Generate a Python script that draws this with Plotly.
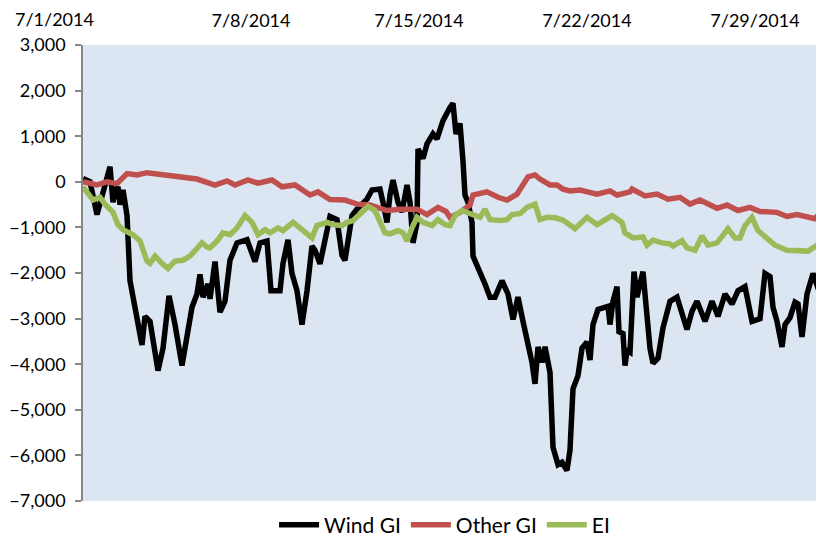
import pandas as pd
import plotly.graph_objects as go

# hours since 2014-07-01 00:00, and values
wind_h = [0, 7, 14, 20, 27, 30, 32, 35, 37, 40, 44, 47, 52, 59, 62, 67, 75, 80, 86, 92, 99, 104, 109, 114,
          117, 120, 125, 127, 132, 137, 142, 147, 154, 164, 172, 177, 184, 188, 197, 200, 205, 209, 214, 219,
          224, 229, 232, 237, 242, 247, 254, 259, 262, 269, 274, 284, 289, 297, 300, 304, 307, 310, 315, 319,
          324, 327, 330, 334, 335, 340, 344, 350, 354, 360, 367, 370, 373, 377, 380, 382, 385, 389, 390, 395,
          402, 407, 412, 419, 425, 430, 435, 440, 445, 449, 452, 455, 459, 462, 467, 470, 475, 479, 484, 487,
          490, 495, 499, 504, 507, 510, 515, 520, 525, 527, 530, 534, 536, 540, 542, 544, 547, 551, 554, 557,
          560, 562, 567, 570, 575, 580, 587, 594, 604, 609, 614, 622, 629, 635, 642, 649, 655, 662, 669, 677,
          682, 687, 690, 694, 699, 702, 707, 712, 715, 719, 724, 730, 735, 737, 739, 741]
wind_v = [70, 0, -720, -220, 330, -450, -200, -110, -500, -180, -740, -2170, -2750, -3580, -2950, -3060, -4140,
          -3650, -2500, -3130, -4030, -3360, -2750, -2460,
          -2030, -2530, -2240, -2570, -1750, -2860, -2620, -1720, -1340, -1270, -1750, -1340, -1300, -2390,
          -2390, -1790, -1270, -2010, -2390, -3130,
          -2390, -1410, -1500, -1800, -1200, -760, -830, -1610, -1720, -740, -600, -380, -180, -160, -450, -890,
          -290, 40, -450, -660,
          -70, -450, -1340, -900, 720, 510, 830, 1050, 940, 1340, 1630, 1720, 1050, 1280, 450, -290, -450, -890,
          -1630, -1860,
          -2240, -2530, -2530, -2170, -2460, -3020, -2530, -3060, -3510, -3960, -4430, -3620, -3960, -3620, -4180,
          -5820, -6200, -6150, -6330, -5880,
          -4540, -4250, -3650, -3510, -3910, -3130, -2800, -2780, -2730, -3130, -2620, -2300, -3290, -3330, -4030,
          -3700, -3740, -1970, -2530, -2240,
          -1970, -2460, -3650, -3980, -3870, -3200, -2620, -2530, -3240, -2840, -2620, -3060, -2620, -2950, -2460,
          -2680, -2390, -2300, -3060, -3000,
          -2010, -2080, -2750, -3060, -3620, -3130, -2980, -2640, -2680, -3400, -2460, -2010, -2300, -2460, -1500,
          -1500]

other_h = [0, 14, 24, 34, 44, 54, 64, 80, 97, 114, 132, 144, 152, 165, 175, 189, 199, 212, 227, 235, 247, 262,
           274, 287, 304, 317, 334, 344, 355, 363, 367, 377, 387, 390, 404, 415, 424, 434, 445, 452, 457, 467,
           474, 480, 487, 497, 514, 527, 534, 547, 549, 562, 574, 585, 597, 607, 617, 634, 644, 655, 667, 677,
           694, 704, 714, 732, 737, 741]
other_v = [0, -70, 0, -40, 180, 150, 200, 150, 110, 60, -70, 20, -70, 40, -30, 40, -110, -70, -290, -220, -390,
           -400, -490, -510, -630, -600, -600, -720, -560, -650, -780, -670, -510, -290, -220, -340, -400, -270,
           110, 150, 60, -70, -70, -160, -200, -180, -270, -200, -290, -220, -160, -310, -270, -380, -340, -490,
           -400, -580, -510, -630, -560, -650, -670, -760, -720, -810, -690, -670]

ei_h = [0, 10, 17, 22, 30, 35, 40, 45, 50, 57, 64, 67, 72, 79, 85, 92, 100, 107, 112, 119, 124, 127, 134, 140,
        147, 154, 162, 169, 175, 182, 187, 195, 200, 210, 219, 229, 234, 244, 250, 259, 264, 270, 279, 285, 292,
        297, 302, 307, 315, 320, 324, 329, 334, 340, 349, 355, 362, 367, 372, 379, 389, 397, 402, 407, 417, 424,
        429, 437, 444, 452, 457, 464, 472, 480, 492, 504, 514, 529, 539, 542, 550, 560, 564, 570, 579, 587, 590,
        599, 604, 612, 619, 625, 634, 645, 652, 657, 662, 669, 675, 684, 692, 704, 715, 725, 734, 741]
ei_v = [-110, -400, -340, -490, -670, -940, -1050, -1120, -1160, -1300, -1740, -1790, -1630, -1790, -1900, -1740,
        -1720, -1630, -1520, -1340, -1430, -1450, -1300, -1120, -1160, -1010, -740, -890, -1160, -1050, -1120,
        -1010, -1070, -890, -1050, -1230, -960, -890, -940, -960, -890, -850, -670, -540, -630, -850, -1120,
        -1140, -1070, -1120, -1300, -1010, -780, -890, -960, -830, -940, -960, -740, -630, -720, -780, -600,
        -830, -850, -830, -720, -700, -560, -490, -830, -780, -790, -840, -1030, -780, -940, -740, -890, -1120,
        -1230, -1210, -1390, -1280, -1340, -1360, -1410, -1290, -1450, -1500, -1190, -1390, -1340, -1030, -1230,
        -1230, -960, -780, -1070, -1230, -1390, -1500, -1500, -1520, -1390, -1280]

tick_dates = ["2014-07-01", "2014-07-08", "2014-07-15", "2014-07-22", "2014-07-29"]
tick_text = ["7/1/2014", "7/8/2014", "7/15/2014", "7/22/2014", "7/29/2014"]
y_ticks = [3000, 2000, 1000, 0, -1000, -2000, -3000, -4000, -5000, -6000, -7000]

base = pd.Timestamp("2014-07-01")


def to_dt(hours):
    return base + pd.to_timedelta(hours, unit="h")


FONT = "Lato"
TICK_SIZE = 18
LW = 5.5
fig = go.Figure()
fig.add_trace(go.Scatter(x=to_dt(wind_h), y=wind_v, mode="lines", name="Wind GI",
                         line=dict(color="#000000", width=LW)))
fig.add_trace(go.Scatter(x=to_dt(other_h), y=other_v, mode="lines", name="Other GI",
                         line=dict(color="#C0504D", width=LW)))
fig.add_trace(go.Scatter(x=to_dt(ei_h), y=ei_v, mode="lines", name="EI",
                         line=dict(color="#9BBB59", width=LW)))

# page body has an 8px default margin, so the figure is 816x538 and offset by 8px
fig.update_layout(
    width=816, height=538,
    margin=dict(l=75, r=0, t=37, b=45),
    paper_bgcolor="white",
    plot_bgcolor="#DCE6F2",
    font=dict(family=FONT, size=TICK_SIZE, color="#000000"),
    showlegend=True,
    legend=dict(orientation="h", x=0.535, xanchor="center", xref="container",
                y=0.039, yanchor="middle", yref="container",
                font=dict(family=FONT, size=21), itemwidth=40, tracegroupgap=0),
    xaxis=dict(
        side="top", type="date", automargin=False,
        range=[to_dt(0), to_dt(741)],
        tickvals=[pd.Timestamp(d) for d in tick_dates],
        ticktext=[""] + tick_text[1:],
        showgrid=False, zeroline=False, showline=False, ticks="",
        ticklabelstandoff=13,
        tickfont=dict(family=FONT, size=TICK_SIZE),
    ),
    yaxis=dict(
        range=[-7000, 3000], automargin=False,
        tickvals=y_ticks,
        tickformat=",",
        showgrid=False, zeroline=False,
        showline=True, linecolor="#868686", linewidth=1.5,
        ticks="outside", ticklen=6, tickcolor="#868686", tickwidth=1.5,
        ticklabelstandoff=6,
        tickfont=dict(family=FONT, size=TICK_SIZE),
    ),
)
fig.add_annotation(text=tick_text[0], xref="paper", yref="paper", x=-0.0945, y=1.0,
                   xanchor="left", yanchor="bottom", yshift=13, showarrow=False,
                   font=dict(family=FONT, size=TICK_SIZE))
fig.write_html("out.html")
